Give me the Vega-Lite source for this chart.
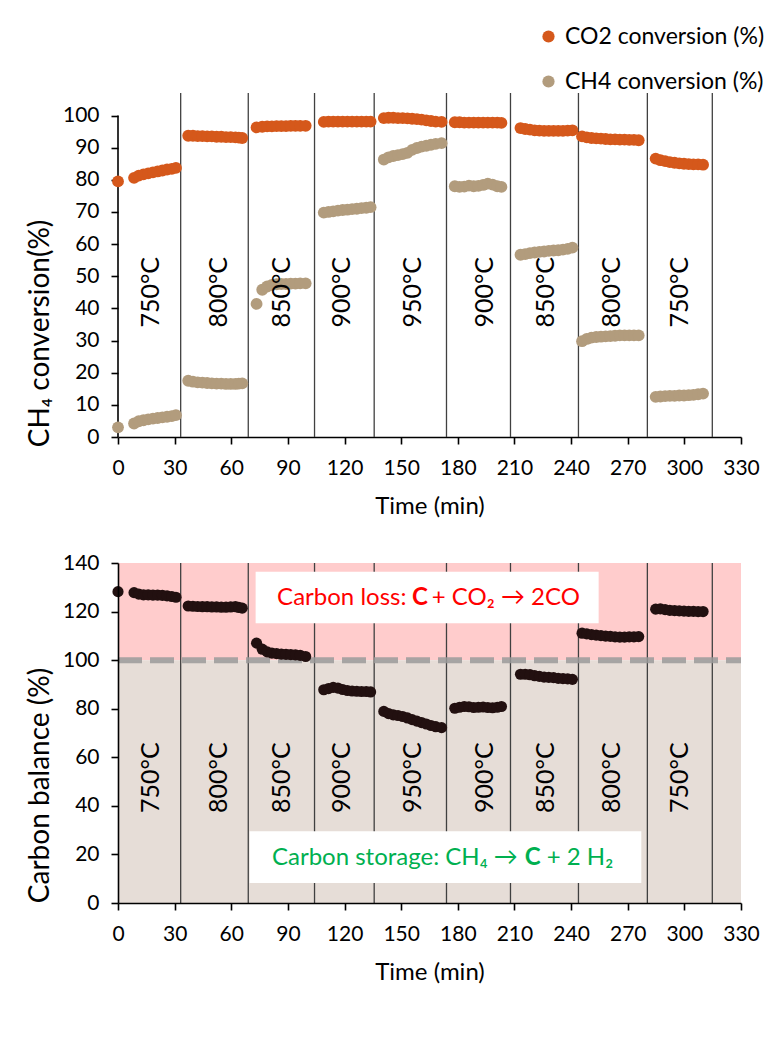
{
"$schema": "https://vega.github.io/schema/vega-lite/v6.json",
"background": "white",
"padding": {"left": 26, "top": 25, "right": 5, "bottom": 5},
"spacing": 34,
"config": {
  "font": "Lato",
  "view": {"stroke": null},
  "axis": {"grid": false, "labelFont": "Lato", "titleFont": "Lato", "labelColor": "#000", "titleColor": "#000", "domainColor": "#000", "tickColor": "#000", "domainWidth": 1.6, "tickWidth": 1.6, "tickSize": 7, "labelFontSize": 21, "titleFontWeight": "normal", "labelOverlap": false, "labelFlush": false},
  "axisY": {"labelOverlap": false, "labelFlush": false, "labelPadding": 12, "titlePadding": 8, "titleFontSize": 28},
  "axisX": {"labelOverlap": false, "labelFlush": false, "labelPadding": 13, "titlePadding": 16, "titleFontSize": 24}
},
"datasets": {
  "pts": [
    {"t":0,"co2":79.5,"ch4":3.0,"cb":128.2},
    {"t":8.5,"co2":80.6,"ch4":4.2,"cb":127.8},
    {"t":11,"co2":81.3,"ch4":4.9,"cb":127.2},
    {"t":13.5,"co2":81.7,"ch4":5.2,"cb":126.9},
    {"t":16,"co2":82.0,"ch4":5.5,"cb":126.9},
    {"t":18.5,"co2":82.3,"ch4":5.7,"cb":126.8},
    {"t":21,"co2":82.6,"ch4":5.9,"cb":126.8},
    {"t":23.5,"co2":82.9,"ch4":6.1,"cb":126.7},
    {"t":26,"co2":83.2,"ch4":6.3,"cb":126.5},
    {"t":28.5,"co2":83.4,"ch4":6.5,"cb":126.2},
    {"t":30.7,"co2":83.7,"ch4":6.8,"cb":125.9},
    {"t":37.2,"co2":93.7,"ch4":17.5,"cb":122.3},
    {"t":39.7,"co2":93.7,"ch4":17.2,"cb":122.2},
    {"t":42.2,"co2":93.6,"ch4":17.0,"cb":122.1},
    {"t":44.7,"co2":93.6,"ch4":16.9,"cb":122.0},
    {"t":47.2,"co2":93.5,"ch4":16.8,"cb":122.0},
    {"t":49.7,"co2":93.5,"ch4":16.7,"cb":121.9},
    {"t":52.2,"co2":93.4,"ch4":16.6,"cb":121.9},
    {"t":54.7,"co2":93.4,"ch4":16.6,"cb":121.8},
    {"t":57.2,"co2":93.3,"ch4":16.5,"cb":121.8},
    {"t":59.7,"co2":93.3,"ch4":16.5,"cb":121.9},
    {"t":62.2,"co2":93.2,"ch4":16.5,"cb":122.0},
    {"t":64.0,"co2":93.1,"ch4":16.6,"cb":121.7},
    {"t":65.8,"co2":93.0,"ch4":16.7,"cb":121.4},
    {"t":73.4,"co2":96.3,"ch4":41.4,"cb":107.0},
    {"t":76.4,"co2":96.5,"ch4":45.8,"cb":104.5},
    {"t":79,"co2":96.6,"ch4":46.8,"cb":103.4},
    {"t":81.5,"co2":96.6,"ch4":47.3,"cb":102.9},
    {"t":84,"co2":96.7,"ch4":47.5,"cb":102.7},
    {"t":86.5,"co2":96.7,"ch4":47.6,"cb":102.5},
    {"t":89,"co2":96.7,"ch4":47.6,"cb":102.4},
    {"t":91.5,"co2":96.8,"ch4":47.7,"cb":102.3},
    {"t":94,"co2":96.8,"ch4":47.7,"cb":102.2},
    {"t":96.5,"co2":96.8,"ch4":47.8,"cb":102.0},
    {"t":99.4,"co2":96.8,"ch4":47.8,"cb":101.5},
    {"t":109,"co2":98.0,"ch4":69.8,"cb":87.8},
    {"t":111.5,"co2":98.1,"ch4":70.0,"cb":88.3},
    {"t":114,"co2":98.1,"ch4":70.2,"cb":88.8},
    {"t":116.5,"co2":98.1,"ch4":70.4,"cb":88.5},
    {"t":119,"co2":98.1,"ch4":70.6,"cb":87.9},
    {"t":121.5,"co2":98.1,"ch4":70.7,"cb":87.5},
    {"t":124,"co2":98.1,"ch4":70.9,"cb":87.3},
    {"t":126.5,"co2":98.1,"ch4":71.0,"cb":87.2},
    {"t":129,"co2":98.1,"ch4":71.2,"cb":87.1},
    {"t":131.5,"co2":98.1,"ch4":71.3,"cb":87.1},
    {"t":133.8,"co2":98.1,"ch4":71.5,"cb":86.9},
    {"t":140.8,"co2":99.2,"ch4":86.3,"cb":78.9},
    {"t":143.3,"co2":99.3,"ch4":87.0,"cb":78.0},
    {"t":145.8,"co2":99.3,"ch4":87.4,"cb":77.5},
    {"t":148.3,"co2":99.2,"ch4":87.7,"cb":77.2},
    {"t":150.8,"co2":99.2,"ch4":88.0,"cb":76.8},
    {"t":153.3,"co2":99.1,"ch4":88.4,"cb":76.2},
    {"t":155.8,"co2":99.0,"ch4":89.3,"cb":75.5},
    {"t":158.3,"co2":98.9,"ch4":89.9,"cb":74.9},
    {"t":160.8,"co2":98.7,"ch4":90.3,"cb":74.3},
    {"t":163.3,"co2":98.5,"ch4":90.6,"cb":73.7},
    {"t":165.8,"co2":98.3,"ch4":90.9,"cb":73.1},
    {"t":168.3,"co2":98.1,"ch4":91.2,"cb":72.6},
    {"t":171.4,"co2":98.0,"ch4":91.4,"cb":72.2},
    {"t":178.4,"co2":97.9,"ch4":78.0,"cb":80.2},
    {"t":180.9,"co2":97.9,"ch4":77.8,"cb":80.6},
    {"t":183.4,"co2":97.8,"ch4":77.9,"cb":80.9},
    {"t":185.9,"co2":97.8,"ch4":78.2,"cb":80.8},
    {"t":188.4,"co2":97.8,"ch4":78.0,"cb":80.5},
    {"t":190.9,"co2":97.8,"ch4":78.1,"cb":80.6},
    {"t":193.4,"co2":97.8,"ch4":78.4,"cb":80.7},
    {"t":195.9,"co2":97.8,"ch4":78.8,"cb":80.5},
    {"t":198.4,"co2":97.8,"ch4":78.5,"cb":80.4},
    {"t":200.9,"co2":97.8,"ch4":78.0,"cb":80.6},
    {"t":203.1,"co2":97.7,"ch4":77.8,"cb":80.9},
    {"t":213.2,"co2":96.1,"ch4":56.7,"cb":94.2},
    {"t":215.7,"co2":95.8,"ch4":56.9,"cb":94.2},
    {"t":218.2,"co2":95.6,"ch4":57.2,"cb":94.0},
    {"t":220.7,"co2":95.4,"ch4":57.4,"cb":93.6},
    {"t":223.2,"co2":95.3,"ch4":57.6,"cb":93.3},
    {"t":225.7,"co2":95.2,"ch4":57.7,"cb":93.0},
    {"t":228.2,"co2":95.2,"ch4":57.9,"cb":92.9},
    {"t":230.7,"co2":95.2,"ch4":58.0,"cb":92.8},
    {"t":233.2,"co2":95.2,"ch4":58.1,"cb":92.5},
    {"t":235.7,"co2":95.2,"ch4":58.3,"cb":92.4},
    {"t":238.2,"co2":95.3,"ch4":58.5,"cb":92.3},
    {"t":240.7,"co2":95.4,"ch4":58.9,"cb":92.1},
    {"t":245.8,"co2":93.5,"ch4":29.8,"cb":111.1},
    {"t":248.3,"co2":93.2,"ch4":30.5,"cb":110.8},
    {"t":250.8,"co2":93.0,"ch4":30.9,"cb":110.5},
    {"t":253.3,"co2":92.9,"ch4":31.1,"cb":110.3},
    {"t":255.8,"co2":92.8,"ch4":31.2,"cb":110.1},
    {"t":258.3,"co2":92.7,"ch4":31.3,"cb":109.9},
    {"t":260.8,"co2":92.6,"ch4":31.4,"cb":109.8},
    {"t":263.3,"co2":92.6,"ch4":31.5,"cb":109.6},
    {"t":265.8,"co2":92.5,"ch4":31.6,"cb":109.5},
    {"t":268.3,"co2":92.5,"ch4":31.6,"cb":109.5},
    {"t":270.8,"co2":92.4,"ch4":31.6,"cb":109.6},
    {"t":273.3,"co2":92.4,"ch4":31.6,"cb":109.6},
    {"t":275.8,"co2":92.3,"ch4":31.6,"cb":109.7},
    {"t":284.8,"co2":86.6,"ch4":12.5,"cb":121.0},
    {"t":287.3,"co2":86.1,"ch4":12.6,"cb":121.1},
    {"t":289.8,"co2":85.8,"ch4":12.7,"cb":120.8},
    {"t":292.3,"co2":85.5,"ch4":12.8,"cb":120.5},
    {"t":294.8,"co2":85.3,"ch4":12.8,"cb":120.4},
    {"t":297.3,"co2":85.1,"ch4":12.9,"cb":120.3},
    {"t":299.8,"co2":85.0,"ch4":12.9,"cb":120.2},
    {"t":302.3,"co2":84.9,"ch4":13.0,"cb":120.1},
    {"t":304.8,"co2":84.8,"ch4":13.1,"cb":120.1},
    {"t":307.3,"co2":84.8,"ch4":13.3,"cb":120.0},
    {"t":309.9,"co2":84.7,"ch4":13.5,"cb":120.0}
  ],
  "walls": [
    {"t":33.2,"lo":0,"hiTop":107,"hiBot":140},{"t":69.0,"lo":0,"hiTop":107,"hiBot":140},{"t":104.1,"lo":0,"hiTop":107,"hiBot":140},
    {"t":135.7,"lo":0,"hiTop":107,"hiBot":140},{"t":174.0,"lo":0,"hiTop":107,"hiBot":140},{"t":207.9,"lo":0,"hiTop":107,"hiBot":140},
    {"t":243.9,"lo":0,"hiTop":107,"hiBot":140},{"t":280.4,"lo":0,"hiTop":107,"hiBot":140},{"t":314.8,"lo":0,"hiTop":107,"hiBot":140}
  ],
  "temps": [
    {"t":17.4,"label":"750°C","yTop":45,"yBot":51.6},{"t":53.5,"label":"800°C","yTop":45,"yBot":51.6},{"t":87.1,"label":"850°C","yTop":45,"yBot":51.6},
    {"t":118.4,"label":"900°C","yTop":45,"yBot":51.6},{"t":156,"label":"950°C","yTop":45,"yBot":51.6},{"t":194.3,"label":"900°C","yTop":45,"yBot":51.6},
    {"t":226.9,"label":"850°C","yTop":45,"yBot":51.6},{"t":261.6,"label":"800°C","yTop":45,"yBot":51.6},{"t":297.5,"label":"750°C","yTop":45,"yBot":51.6}
  ],
  "axisTop": [{"t":0,"y0":0,"y1":100}],
  "bands": [{"kind":"loss","t":0,"t2":330,"y0":100,"y1":140},{"kind":"storage","t":0,"t2":330,"y0":0,"y1":100}],
  "dash": [{"t":0,"t2":330,"y":100}],
  "boxes": [{"note":"loss","t":72.9,"t2":254.6,"y0":115.2,"y1":136.4},{"note":"storage","t":69.7,"t2":277.2,"y0":8.2,"y1":29.5}],
  "notes": [
    {"note":"loss","part":"pre","t":152.8,"y":125.5,"text":"Carbon loss:"},
    {"note":"loss","part":"bold","t":159.9,"y":125.5,"text":"C"},
    {"note":"loss","part":"post","t":166.2,"y":125.5,"text":"+ CO₂ → 2CO"},
    {"note":"storage","part":"pre","t":211.8,"y":18.5,"text":"Carbon storage: CH₄ →"},
    {"note":"storage","part":"bold","t":219.7,"y":18.5,"text":"C"},
    {"note":"storage","part":"post","t":227.1,"y":18.5,"text":"+ 2 H₂"}
  ]
},
"vconcat": [
  {
    "width": 623, "height": 344,
    "encoding": {
      "x": {"field": "t", "type": "quantitative", "scale": {"domain": [0, 330], "nice": false},
            "title": "Time (min)",
            "axis": {"values": [0,30,60,90,120,150,180,210,240,270,300,330]}},
      "y": {"field": "value", "type": "quantitative", "scale": {"domain": [0, 107], "nice": false},
            "title": "CH₄ conversion(%)",
            "axis": {"values": [0,10,20,30,40,50,60,70,80,90,100], "domain": false, "titleY": 240}}
    },
    "layer": [
      {
        "data": {"name": "walls"},
        "mark": {"type": "rule", "color": "#404040", "strokeWidth": 1.3},
        "encoding": {
          "y": {"field": "lo", "type": "quantitative"},
          "y2": {"field": "hiTop"}
        }
      },
      {
        "data": {"name": "axisTop"},
        "mark": {"type": "rule", "color": "#000", "strokeWidth": 1.6},
        "encoding": {
          "y": {"field": "y0", "type": "quantitative"},
          "y2": {"field": "y1"}
        }
      },
      {
        "data": {"name": "pts"},
        "transform": [{"fold": ["co2", "ch4"], "as": ["series", "value"]}],
        "mark": {"type": "circle", "size": 140, "opacity": 1},
        "encoding": {
          "color": {"field": "series", "type": "nominal",
                    "scale": {"domain": ["co2", "ch4"], "range": ["#D5581B", "#B29C7D"]},
                    "legend": {"orient": "none", "legendX": 419, "legendY": -68, "title": null, "labelFontSize": 23, "labelFont": "Lato", "labelColor": "#000", "labelLimit": 400, "symbolType": "circle", "symbolSize": 150, "rowPadding": 21, "labelOffset": 5, "symbolOpacity": 1,
                               "labelExpr": "datum.label == 'co2' ? 'CO2 conversion (%)' : 'CH4 conversion (%)'"}}
        }
      },
      {
        "data": {"name": "temps"},
        "mark": {"type": "text", "angle": 270, "fontSize": 25, "color": "#000", "align": "center", "baseline": "middle"},
        "encoding": {
          "y": {"field": "yTop", "type": "quantitative"},
          "text": {"field": "label"}
        }
      }
    ]
  },
  {
    "width": 623, "height": 340,
    "encoding": {
      "x": {"field": "t", "type": "quantitative", "scale": {"domain": [0, 330], "nice": false},
            "title": "Time (min)",
            "axis": {"values": [0,30,60,90,120,150,180,210,240,270,300,330], "zindex": 1}},
      "y": {"field": "y0", "type": "quantitative", "scale": {"domain": [0, 140], "nice": false},
            "title": "Carbon balance (%)",
            "axis": {"values": [0,20,40,60,80,100,120,140], "titleY": 222, "zindex": 1}}
    },
    "layer": [
      {
        "data": {"name": "bands"},
        "transform": [{"filter": "datum.kind == 'loss'"}],
        "mark": {"type": "rect", "color": "#FFCCCC"},
        "encoding": {"x2": {"field": "t2"}, "y2": {"field": "y1"}}
      },
      {
        "data": {"name": "bands"},
        "transform": [{"filter": "datum.kind == 'storage'"}],
        "mark": {"type": "rect", "color": "#E6DDD7"},
        "encoding": {"x2": {"field": "t2"}, "y2": {"field": "y1"}}
      },
      {
        "data": {"name": "walls"},
        "mark": {"type": "rule", "color": "#404040", "strokeWidth": 1.3},
        "encoding": {
          "y": {"field": "lo", "type": "quantitative"},
          "y2": {"field": "hiBot"}
        }
      },
      {
        "data": {"name": "dash"},
        "mark": {"type": "rule", "color": "#9A9A9A", "strokeWidth": 6, "strokeDash": [24, 8], "opacity": 0.85},
        "encoding": {
          "x2": {"field": "t2"},
          "y": {"field": "y", "type": "quantitative"}
        }
      },
      {
        "data": {"name": "boxes"},
        "mark": {"type": "rect", "color": "#FFFFFF"},
        "encoding": {"x2": {"field": "t2"}, "y2": {"field": "y1"}}
      },
      {
        "data": {"name": "notes"},
        "transform": [{"filter": "datum.part == 'pre'"}],
        "mark": {"type": "text", "fontSize": 24, "align": "right", "baseline": "middle"},
        "encoding": {
          "y": {"field": "y", "type": "quantitative"},
          "text": {"field": "text"},
          "color": {"condition": {"test": "datum.note == 'loss'", "value": "#FF0000"}, "value": "#00B050"}
        }
      },
      {
        "data": {"name": "notes"},
        "transform": [{"filter": "datum.part == 'bold'"}],
        "mark": {"type": "text", "fontSize": 24, "fontWeight": "bold", "align": "center", "baseline": "middle"},
        "encoding": {
          "y": {"field": "y", "type": "quantitative"},
          "text": {"field": "text"},
          "color": {"condition": {"test": "datum.note == 'loss'", "value": "#FF0000"}, "value": "#00B050"}
        }
      },
      {
        "data": {"name": "notes"},
        "transform": [{"filter": "datum.part == 'post'"}],
        "mark": {"type": "text", "fontSize": 24, "align": "left", "baseline": "middle"},
        "encoding": {
          "y": {"field": "y", "type": "quantitative"},
          "text": {"field": "text"},
          "color": {"condition": {"test": "datum.note == 'loss'", "value": "#FF0000"}, "value": "#00B050"}
        }
      },
      {
        "data": {"name": "temps"},
        "mark": {"type": "text", "angle": 270, "fontSize": 25, "color": "#000", "align": "center", "baseline": "middle"},
        "encoding": {
          "y": {"field": "yBot", "type": "quantitative"},
          "text": {"field": "label"}
        }
      },
      {
        "data": {"name": "pts"},
        "mark": {"type": "circle", "size": 125, "opacity": 1, "color": "#221010"},
        "encoding": {
          "y": {"field": "cb", "type": "quantitative"}
        }
      }
    ]
  }
]
}
